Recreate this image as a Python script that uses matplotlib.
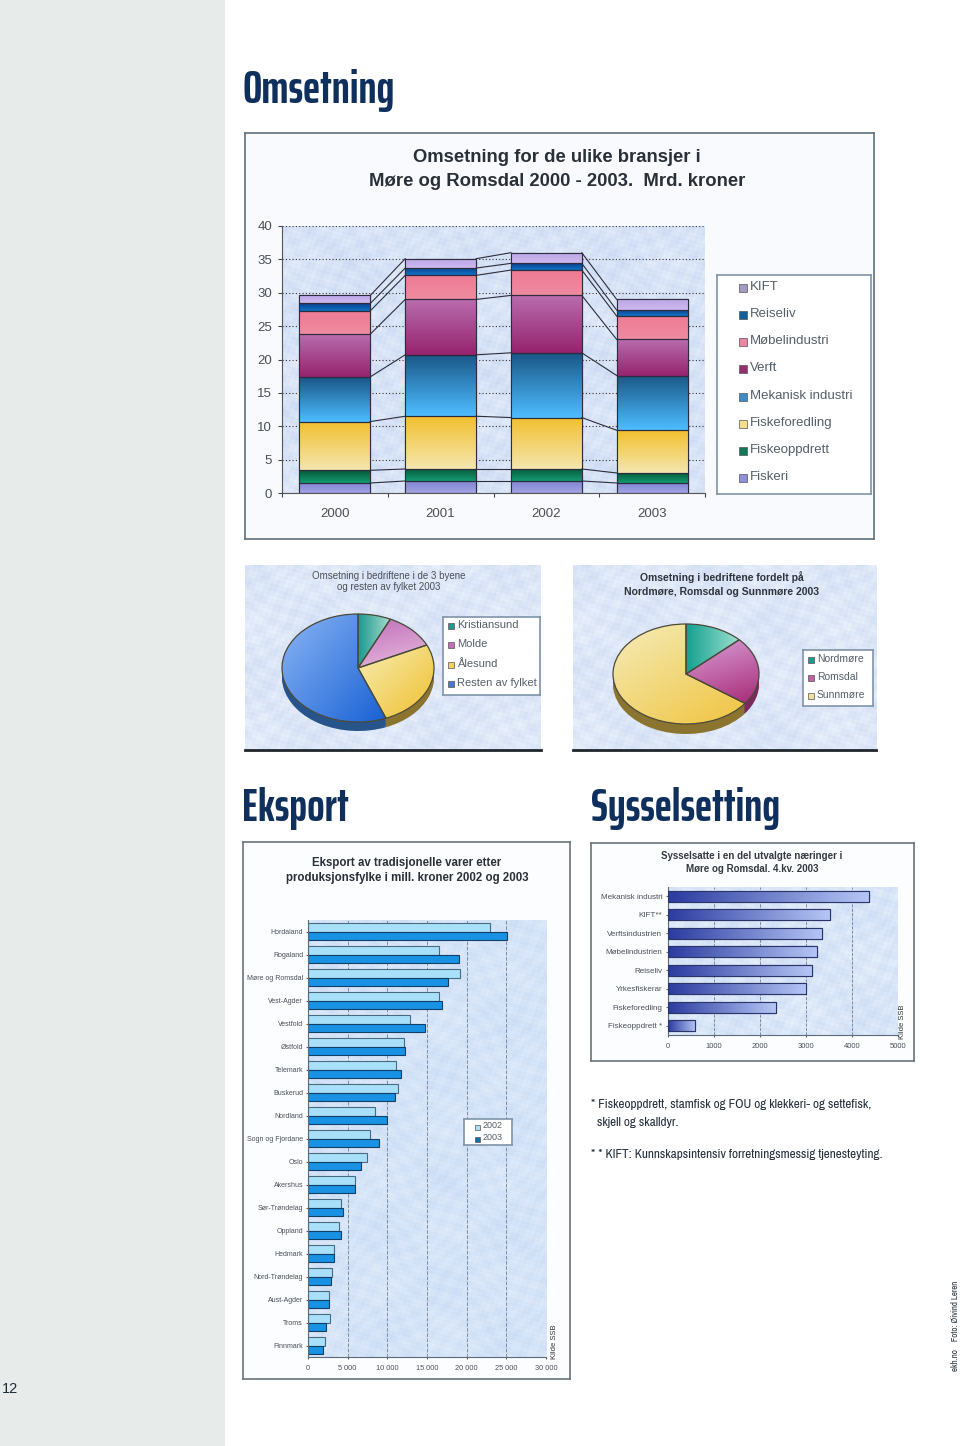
import matplotlib
matplotlib.use('Agg')
import matplotlib.pyplot as plt
from matplotlib.colors import LinearSegmentedColormap
from matplotlib.patches import PathPatch, Rectangle
import numpy as np

W, H = 960, 1446

# Omsetning, stacked bars
years = ['2000', '2001', '2002', '2003']
bransjer = ['Fiskeri', 'Fiskeoppdrett', 'Fiskeforedling', 'Mekanisk industri',
            'Verft', 'Møbelindustri', 'Reiseliv', 'KIFT']
fiskeri = [1.5, 1.8, 1.8, 1.5]
fiskeoppdrett = [1.9, 1.8, 1.8, 1.5]
fiskeforedling = [7.3, 7.9, 7.7, 6.4]
mekanisk = [6.7, 9.2, 9.7, 8.2]
verft = [6.4, 8.3, 8.6, 5.4]
mobel = [3.5, 3.6, 3.8, 3.5]
reiseliv = [1.1, 1.1, 1.0, 0.9]
kift = [1.2, 1.4, 1.6, 1.6]
omsetning = [fiskeri, fiskeoppdrett, fiskeforedling, mekanisk, verft, mobel, reiseliv, kift]
bransje_grad = [('#7f82d2', '#a3a3e4'), ('#07583a', '#129a70'), ('#f2c02f', '#f4e6ae'),
                ('#1a5888', '#4dbcff'), ('#b86cae', '#96246e'), ('#ee7a94', '#ef8ba0'),
                ('#0c3f8c', '#1072c4'), ('#bba6e6', '#cdb8ee')]
legend_swatch = ['#8f90dc', '#0c7a58', '#f3df8a', '#3c8cc8', '#96306e', '#ee84a0', '#0f5f9c', '#a49ac4']

# Pies
byer = ['Kristiansund', 'Molde', 'Ålesund', 'Resten av fylket']
by_andel = [7, 11, 26, 56]
regioner = ['Nordmøre', 'Romsdal', 'Sunnmøre']
region_andel = [13, 22, 65]

# Eksport
fylker = ['Hordaland', 'Rogaland', 'Møre og Romsdal', 'Vest-Agder', 'Vestfold', 'Østfold',
          'Telemark', 'Buskerud', 'Nordland', 'Sogn og Fjordane', 'Oslo', 'Akershus',
          'Sør-Trøndelag', 'Oppland', 'Hedmark', 'Nord-Trøndelag', 'Aust-Agder', 'Troms',
          'Finnmark']
eksport_2002 = [23000, 16500, 19150, 16500, 12800, 12150, 11100, 11350, 8500, 7870,
                7400, 5930, 4120, 3910, 3280, 3070, 2610, 2820, 2190]
eksport_2003 = [25030, 19000, 17600, 16900, 14750, 12200, 11750, 10950, 9900, 8960,
                6730, 5930, 4420, 4120, 3240, 2860, 2610, 2230, 1850]
eksport_ticks = [0, 5000, 10000, 15000, 20000, 25000, 30000]
eksport_ticklabels = ['0', '5 000', '10 000', '15 000', '20 000', '25 000', '30 000']

# Sysselsetting
naeringer = ['Mekanisk industri', 'KIFT**', 'Verftsindustrien', 'Møbelindustrien',
             'Reiseliv', 'Yrkesfiskerar', 'Fiskeforedling', 'Fiskeoppdrett *']
sysselsatte = [4360, 3515, 3350, 3240, 3120, 3005, 2340, 590]
syssel_ticks = [0, 1000, 2000, 3000, 4000, 5000]

NAVY = '#0f2f5c'
HEAD = ['Saira ExtraCondensed', 'Asap Condensed', 'Liberation Sans', 'DejaVu Sans']
NARROW = ['Archivo Narrow', 'Liberation Sans', 'DejaVu Sans']
plt.rcParams['font.family'] = ['Liberation Sans', 'DejaVu Sans']

fig = plt.figure(figsize=(W / 100, H / 100), dpi=100, facecolor='white')


def px_axes(x0, y0, x1, y1, zorder=1):
    # pixel box, y counted from the top of the page
    return fig.add_axes([x0 / W, 1 - y1 / H, (x1 - x0) / W, (y1 - y0) / H], zorder=zorder)


def label(x, y, s, **kw):
    kw.setdefault('ha', 'left')
    kw.setdefault('va', 'center')
    fig.text(x / W, 1 - y / H, s, **kw)


def texture(ax, low='#c9d8f2', high='#e6eefb', zorder=0):
    # mottled paper look behind the old excel charts
    xa, xb = ax.get_xlim()
    ya, yb = ax.get_ylim()
    bb = ax.get_window_extent()
    px, py = np.meshgrid(np.arange(int(bb.width)), np.arange(int(bb.height)))
    t = (np.sin(px * 0.23 + 1.7 * np.sin(py * 0.09)) * np.sin(py * 0.29 + 1.9 * np.sin(px * 0.07))
         + 0.6 * np.sin(px * 0.71 + py * 0.43) * np.sin(px * 0.37 - py * 0.83)
         + 0.5 * np.sin(px * 0.05 + 1.1) * np.sin(py * 0.06 + 0.4))
    cmap = LinearSegmentedColormap.from_list('tx', [low, high])
    ax.imshow(t, extent=[xa, xb, ya, yb], origin='lower', aspect='auto', cmap=cmap, zorder=zorder)
    ax.set_xlim(xa, xb)
    ax.set_ylim(ya, yb)


def grad_fill(ax, patch, c0, c1, angle=90, zorder=2):
    # linear gradient clipped to a patch; angle 90 = c0 on top, 0 = c0 on the left
    xa, xb = ax.get_xlim()
    ya, yb = ax.get_ylim()
    bb = patch.get_window_extent()
    inv = ax.transData.inverted()
    (x0, y0), (x1, y1) = inv.transform([(bb.x0, bb.y0), (bb.x1, bb.y1)])
    u, v = np.meshgrid(np.linspace(0, 1, 40), np.linspace(0, 1, 40))
    a = np.deg2rad(angle)
    t = (1 - u) * np.cos(a) + v * np.sin(a)
    cmap = LinearSegmentedColormap.from_list('g', [c1, c0])
    im = ax.imshow(t, extent=[x0, x1, y0, y1], origin='lower', aspect='auto', cmap=cmap,
                   zorder=zorder, interpolation='bilinear')
    im.set_clip_path(patch)
    ax.set_xlim(xa, xb)
    ax.set_ylim(ya, yb)


def panel(x0, y0, x1, y1, edge='#5f6f7c', fc='#f6f9fe', lw=1.2):
    ax = px_axes(x0, y0, x1, y1, zorder=0)
    ax.set_xticks([])
    ax.set_yticks([])
    ax.set_facecolor(fc)
    for s in ax.spines.values():
        s.set_color(edge)
        s.set_linewidth(lw)
    return ax


def legend_box(x0, y0, x1, y1, labels, colors, fontsize, sw=7, pad=12, pad2=12, tx=22):
    ax = px_axes(x0, y0, x1, y1, zorder=3)
    ax.set_xlim(x0, x1)
    ax.set_ylim(y1, y0)
    ax.set_xticks([])
    ax.set_yticks([])
    ax.set_facecolor('white')
    for s in ax.spines.values():
        s.set_color('#7f93a8')
        s.set_linewidth(1.2)
    step = (y1 - y0 - pad - pad2) / (len(labels) - 1)
    for i, (lab, col) in enumerate(zip(labels, colors)):
        y = y0 + pad + i * step
        ax.add_patch(Rectangle((x0 + tx - sw - 3, y - sw / 2 + 1), sw, sw, fc=col, ec='#555555', lw=0.5))
        ax.text(x0 + tx, y, lab, fontsize=fontsize, color='#555f68', va='center', clip_on=False)


def draw_pie(x0, y0, x1, y1, cx, cy, rx, ry, depth, values, grads, rims):
    ax = px_axes(x0, y0, x1, y1, zorder=1)
    xlim = ((x0 - cx) / rx, (x1 - cx) / rx)
    ylim = ((cy - y1) / ry, (cy - y0) / ry)
    for dy in np.linspace(depth / ry, 0.01, 7):
        ax.pie(values, colors=rims, startangle=90, counterclock=False, center=(0, -dy),
               wedgeprops=dict(linewidth=0))
    wedges = ax.pie(values, colors=[g[0] for g in grads], startangle=90, counterclock=False,
                    wedgeprops=dict(linewidth=0))[0]
    ax.set_aspect('auto')
    ax.set_xlim(xlim)
    ax.set_ylim(ylim)
    ax.set_frame_on(True)
    ax.set_xticks([])
    ax.set_yticks([])
    for k in ['top', 'left', 'right']:
        ax.spines[k].set_visible(False)
    ax.spines['bottom'].set_color('#20262c')
    ax.spines['bottom'].set_linewidth(2)
    texture(ax, low='#cfdcf4', high='#ecf2fc', zorder=0)
    for w, g in zip(wedges, grads):
        w.set_zorder(3)
        grad_fill(ax, w, g[0], g[1], angle=g[2], zorder=4)
        ax.add_patch(PathPatch(w.get_path(), transform=w.get_transform(), fill=False,
                               ec='#4a4a3a', lw=0.9, zorder=5))
    return ax


# page furniture
side = px_axes(0, 0, 225, H, zorder=0)
side.axis('off')
side.add_patch(Rectangle((0, 0), 1, 1, transform=side.transAxes, fc='#e7ecea', ec='none'))
label(2, 1389, '12', fontsize=10.5, color='#1c2a3a')

label(243, 90, 'Omsetning', fontsize=33, fontweight='bold', color=NAVY, family=HEAD)
label(242, 808, 'Eksport', fontsize=33, fontweight='bold', color=NAVY, family=HEAD)
label(591, 808, 'Sysselsetting', fontsize=33, fontweight='bold', color=NAVY, family=HEAD)

# Omsetning
panel(245, 133, 874, 539, fc='#f8fafe')
label(557, 157, 'Omsetning for de ulike bransjer i', fontsize=13.3, fontweight='bold', color='#2a3038', ha='center')
label(557, 181, 'Møre og Romsdal 2000 - 2003.  Mrd. kroner', fontsize=13.3, fontweight='bold', color='#2a3038', ha='center')

ax = px_axes(282, 226, 705, 493, zorder=2)
ax.set_xlim(-0.5, 3.5)
ax.set_ylim(0, 40)
texture(ax)
ax.grid(axis='y', color='#333333', linestyle=(0, (1, 2)), linewidth=0.8, zorder=1)
ax.set_axisbelow(True)
x = np.arange(len(years))
bottom = np.zeros(len(years))
bw = 0.67
for vals, (c0, c1) in zip(omsetning, bransje_grad):
    bars = ax.bar(x, vals, bw, bottom=bottom, color=c0, edgecolor='#2c2c3c', linewidth=0.8, zorder=2)
    for b in bars:
        grad_fill(ax, b, c0, c1, zorder=2.5)
        ax.add_patch(Rectangle(b.get_xy(), b.get_width(), b.get_height(), fill=False,
                               ec='#2c2c3c', lw=0.8, zorder=3))
    bottom = bottom + np.array(vals)
    # series lines between the bars
    for i in range(len(years) - 1):
        ax.plot([x[i] + bw / 2, x[i + 1] - bw / 2], [bottom[i], bottom[i + 1]],
                color='#2c2c3c', lw=0.8, zorder=3)
ax.set_xticks(np.arange(-0.5, 4, 1))
ax.set_xticklabels([])
ax.set_xticks(x, minor=True)
ax.set_xticklabels(years, minor=True, fontsize=9.5, color='#4a4f55')
ax.tick_params(axis='x', which='minor', length=0, pad=11)
ax.tick_params(axis='x', which='major', length=3, color='#444444')
ax.set_yticks(range(0, 41, 5))
ax.tick_params(axis='y', labelsize=9.5, labelcolor='#4a4f55', length=3, color='#444444', pad=4)
for k in ['top', 'right']:
    ax.spines[k].set_visible(False)
for k in ['left', 'bottom']:
    ax.spines[k].set_color('#555555')

legend_box(717, 275, 871, 494, bransjer[::-1], legend_swatch[::-1], 9.5, sw=8, pad=12, pad2=17, tx=33)

# Pies
by_grads = [('#1c9a90', '#a8dccc', 0), ('#c070b8', '#e8bce0', 70),
            ('#f6eeb4', '#f0c030', 45), ('#8ab4f4', '#1a62d4', 40)]
by_rims = ['#157a70', '#803a78', '#8a7430', '#28548c']
draw_pie(245, 565, 541, 750, 358, 668, 76, 54, 9, by_andel, by_grads, by_rims)
label(389, 576, 'Omsetning i bedriftene i de 3 byene', fontsize=7, color='#4a5058', ha='center', zorder=5)
label(389, 587, 'og resten av fylket 2003', fontsize=7, color='#4a5058', ha='center', zorder=5)
legend_box(443, 617, 540, 695, byer, ['#1c9a90', '#c070b8', '#f0d060', '#4a78cc'], 8, sw=6, pad=8, pad2=12, tx=14)

region_grads = [('#14a090', '#a0e0d0', 0), ('#d8a0d8', '#a82c78', 70), ('#f4ecb8', '#f0c440', 50)]
region_rims = ['#157a70', '#7a2a5c', '#8a7430']
draw_pie(573, 565, 876, 750, 686, 674, 73, 50, 10, region_andel, region_grads, region_rims)
label(722, 577, 'Omsetning i bedriftene fordelt på', fontsize=7.5, fontweight='bold', color='#2e343c', ha='center', zorder=5)
label(722, 592, 'Nordmøre, Romsdal og Sunnmøre 2003', fontsize=7.5, fontweight='bold', color='#2e343c', ha='center', zorder=5)
legend_box(803, 650, 873, 706, regioner, ['#14a090', '#c060a8', '#f0e0a0'], 7.5, sw=6, pad=9, pad2=11, tx=14)

# Eksport
panel(243, 842, 570, 1379, edge='#6a747c', fc='#fbfdff')
label(407, 863, 'Eksport av tradisjonelle varer etter', fontsize=8.3, fontweight='bold', color='#2a3038', ha='center')
label(407, 878, 'produksjonsfylke i mill. kroner 2002 og 2003', fontsize=8.3, fontweight='bold', color='#2a3038', ha='center')

ax = px_axes(308, 920, 546, 1357, zorder=2)
ax.set_xlim(0, 30000)
ax.set_ylim(len(fylker) - 0.5, -0.5)
texture(ax, low='#c8dcf5', high='#e2ecfa')
ax.grid(axis='x', color='#7c8ea4', linestyle='--', linewidth=0.7, zorder=1)
ax.set_axisbelow(True)
y = np.arange(len(fylker))
ax.barh(y - 0.19, eksport_2002, 0.38, color='#a8e0fa', edgecolor='#4a6a80', linewidth=0.8, zorder=2, label='2002')
ax.barh(y + 0.19, eksport_2003, 0.38, color='#1a92e4', edgecolor='#123f66', linewidth=0.8, zorder=2, label='2003')
ax.set_yticks(y)
ax.set_yticklabels(fylker, fontsize=5, color='#4a5058')
ax.set_xticks(eksport_ticks)
ax.set_xticklabels(eksport_ticklabels, fontsize=5.3, color='#4a5058')
ax.tick_params(length=1.5, color='#666666', pad=2)
ax.tick_params(axis='x', pad=4)
for k in ['top', 'right']:
    ax.spines[k].set_visible(False)
for k in ['left', 'bottom']:
    ax.spines[k].set_color('#5a6a78')
legend_box(464, 1119, 512, 1145, ['2002', '2003'], ['#a8e0fa', '#0f70b0'], 6.5, sw=5, pad=7, pad2=7, tx=19)
label(555, 1342, 'Kilde SSB', fontsize=5.5, color='#333333', rotation=90, ha='center', zorder=5)

# Sysselsetting
panel(591, 843, 914, 1061, edge='#6a747c', fc='#fbfdff')
label(752, 856, 'Sysselsatte i en del utvalgte næringer i', fontsize=7, fontweight='bold', color='#33393f', ha='center')
label(752, 869, 'Møre og Romsdal. 4.kv. 2003', fontsize=7, fontweight='bold', color='#33393f', ha='center')

ax = px_axes(668, 887, 898, 1035, zorder=2)
ax.set_xlim(0, 5000)
ax.set_ylim(len(naeringer) - 0.5, -0.5)
texture(ax, low='#cbdcf5', high='#e8f0fb')
ax.grid(axis='x', color='#6c7c90', linestyle='--', linewidth=0.6, zorder=1)
ax.set_axisbelow(True)
y = np.arange(len(naeringer))
bars = ax.barh(y, sysselsatte, 0.62, color='#5468c0', edgecolor='#2a3468', linewidth=0.8, zorder=2)
for b in bars:
    grad_fill(ax, b, '#2c3ca0', '#b4c4f4', angle=0, zorder=2.5)
    ax.add_patch(Rectangle(b.get_xy(), b.get_width(), b.get_height(), fill=False,
                           ec='#2a3468', lw=0.8, zorder=3))
ax.set_yticks(y)
ax.set_yticklabels(naeringer, fontsize=5.8, color='#4a5058')
ax.set_xticks(syssel_ticks)
ax.set_xticklabels([str(t) for t in syssel_ticks], fontsize=5.5, color='#4a5058')
ax.tick_params(length=1.5, color='#666666', pad=2.5)
ax.tick_params(axis='x', pad=4)
for k in ['top', 'right']:
    ax.spines[k].set_visible(False)
for k in ['left', 'bottom']:
    ax.spines[k].set_color('#5a6a78')
label(902, 1022, 'Kilde SSB', fontsize=5.5, color='#333333', rotation=90, ha='center', zorder=5)

# footnotes and credit
note = dict(fontsize=9.5, color='#25303c', family=NARROW)
label(591, 1105, '* Fiskeoppdrett, stamfisk og FOU og klekkeri- og settefisk,', **note)
label(597, 1122, 'skjell og skalldyr.', **note)
label(591, 1155, '* * KIFT: Kunnskapsintensiv forretningsmessig tjenesteyting.', **note)
label(956, 1326, 'ekh.no    Foto: Øivind Leren', fontsize=6.4, color='#25303c', rotation=90, ha='center', family=NARROW)

fig.savefig('out.png', dpi=100)
